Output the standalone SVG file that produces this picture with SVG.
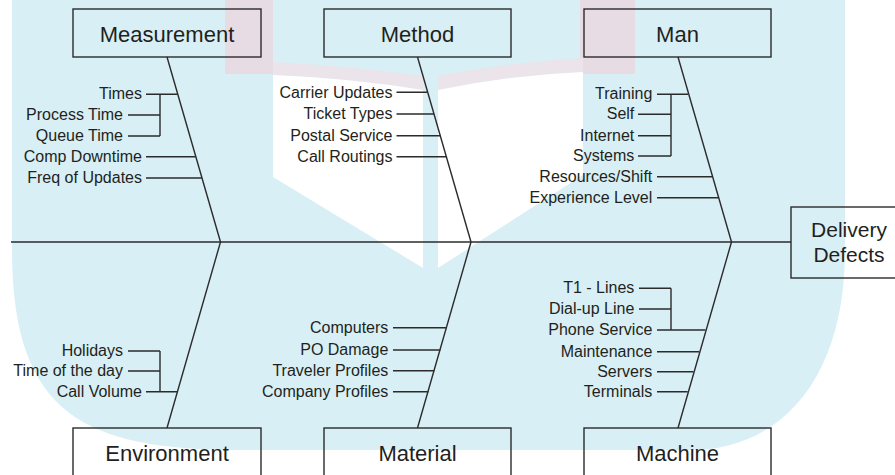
<svg xmlns="http://www.w3.org/2000/svg" width="895" height="475" viewBox="0 0 895 475">
<style>
.box{fill:none;stroke:#2b2b2b;stroke-width:1.4}
.bt{font-family:"Liberation Sans",Arial,sans-serif;font-size:22px;fill:#231f20;text-anchor:middle}
.lb{font-family:"Liberation Sans",Arial,sans-serif;font-size:16px;fill:#231f20;text-anchor:end}
.ln{stroke:#2b2b2b;stroke-width:1.4;fill:none}
</style>
<rect width="895" height="475" fill="#ffffff"/>
<g id="watermark">
<path d="M12 0 L845 0 L845 250 C845 380 780 450 690 450 L240 450 C85 450 12 415 12 250 Z" fill="#d8eff5"/>
<rect x="225" y="0" width="48" height="74" fill="#e7dbe4"/>
<rect x="580" y="0" width="55" height="74" fill="#e7dbe4"/>
<path d="M273 62 Q350 66 423 76 L423 90 Q350 78 273 75 Z" fill="#ebe4ea"/>
<path d="M438 76 Q510 62 583 58 L583 72 Q510 75 438 90 Z" fill="#ebe4ea"/>
<path d="M273 75 Q350 78 423 90 L423 268 L273 177 Z" fill="#ffffff"/>
<path d="M438 90 Q510 75 583 72 L583 175 L438 268 Z" fill="#ffffff"/>
</g>
<g id="connectors">
<line class="ln" x1="11" y1="242" x2="791" y2="242"/>
<line class="ln" x1="167" y1="57" x2="220.5" y2="242"/>
<line class="ln" x1="220.5" y1="242" x2="167" y2="428"/>
<line class="ln" x1="417.5" y1="57" x2="471" y2="242"/>
<line class="ln" x1="471" y1="242" x2="417.5" y2="428"/>
<line class="ln" x1="678" y1="57" x2="731.5" y2="242"/>
<line class="ln" x1="731.5" y1="242" x2="678" y2="428"/>
</g>
<g id="measurement">
<rect class="box" x="73" y="9" width="188" height="48"/>
<text class="bt" x="167" y="42">Measurement</text>
<text class="lb" x="142" y="99">Times</text>
<text class="lb" x="123" y="120">Process Time</text>
<text class="lb" x="123" y="141">Queue Time</text>
<text class="lb" x="142" y="162">Comp Downtime</text>
<text class="lb" x="142" y="183">Freq of Updates</text>
<path class="ln" d="M146 94.3H177.7M128 115H160M128 136H160M160 94.3V136M146 156.7H195.6M146 178H202"/>
</g>
<g id="method">
<rect class="box" x="324" y="9" width="187" height="48"/>
<text class="bt" x="417.5" y="42">Method</text>
<text class="lb" x="392.5" y="97.5">Carrier Updates</text>
<text class="lb" x="392.5" y="119">Ticket Types</text>
<text class="lb" x="392.5" y="140.5">Postal Service</text>
<text class="lb" x="392.5" y="161.5">Call Routings</text>
<path class="ln" d="M396.5 92.3H427.7M396.5 114H434M396.5 135.7H440.3M396.5 156.7H446.5"/>
</g>
<g id="man">
<rect class="box" x="584" y="9" width="187" height="48"/>
<text class="bt" x="677.5" y="42">Man</text>
<text class="lb" x="652.3" y="99">Training</text>
<text class="lb" x="634.3" y="119">Self</text>
<text class="lb" x="634.3" y="140.5">Internet</text>
<text class="lb" x="634.3" y="161">Systems</text>
<text class="lb" x="652.3" y="181.5">Resources/Shift</text>
<text class="lb" x="652.3" y="202.5">Experience Level</text>
<path class="ln" d="M657 94.3H688M638 114.3H671M638 135.7H671M638 156H671M671 94.3V156M657 176.7H712.4M657 197.7H718.5"/>
</g>
<g id="environment">
<rect class="box" x="73" y="428" width="188" height="60"/>
<text class="bt" x="167" y="461">Environment</text>
<text class="lb" x="123" y="356">Holidays</text>
<text class="lb" x="123" y="376">Time of the day</text>
<text class="lb" x="142" y="396.5">Call Volume</text>
<path class="ln" d="M128 351H160M128 371H160M160 351V391.7M146 391.7H177.8"/>
</g>
<g id="material">
<rect class="box" x="324" y="428" width="187" height="60"/>
<text class="bt" x="417.5" y="461">Material</text>
<text class="lb" x="388.3" y="332.5">Computers</text>
<text class="lb" x="388.3" y="355">PO Damage</text>
<text class="lb" x="388.3" y="375.5">Traveler Profiles</text>
<text class="lb" x="388.3" y="396.5">Company Profiles</text>
<path class="ln" d="M393 327.7H446.8M393 350H440.3M393 370.7H434.3M393 391.7H428.3"/>
</g>
<g id="machine">
<rect class="box" x="584" y="428" width="187" height="60"/>
<text class="bt" x="677.5" y="461">Machine</text>
<text class="lb" x="634.3" y="293">T1 - Lines</text>
<text class="lb" x="634.3" y="314">Dial-up Line</text>
<text class="lb" x="652.3" y="335">Phone Service</text>
<text class="lb" x="652.3" y="356.5">Maintenance</text>
<text class="lb" x="652.3" y="376.5">Servers</text>
<text class="lb" x="652.3" y="396.5">Terminals</text>
<path class="ln" d="M639 288.3H671M639 309H671M671 288.3V330M657 330H705.4M657 351.7H699.2M657 371.7H693.5M657 391.7H687.7"/>
</g>
<g id="delivery-defects">
<rect class="box" x="791" y="207" width="110" height="71"/>
<text class="bt" x="849" y="236.7" style="font-size:21px">Delivery</text>
<text class="bt" x="849" y="261.7" style="font-size:21px">Defects</text>
</g>
</svg>
